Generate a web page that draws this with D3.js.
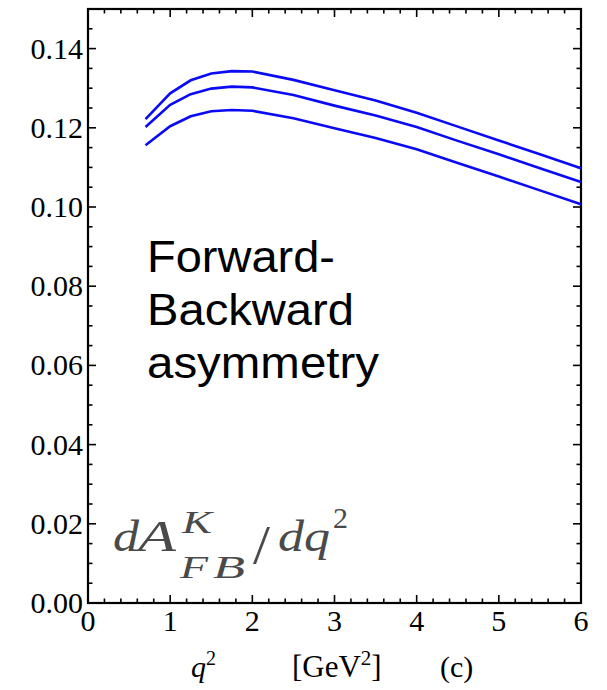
<!DOCTYPE html>
<html>
<head>
<meta charset="utf-8">
<script src="https://cdn.jsdelivr.net/npm/d3@7"></script>
<style>
  body { margin: 0; background: #fff; }
  svg text { font-family: "Liberation Serif", "Times New Roman", serif; }
  svg text.sans { font-family: "Liberation Sans", Arial, sans-serif; }
</style>
</head>
<body>
<div id="chart"></div>
<script>
// q^2 sample points [GeV^2]
const q2 = [0.7, 1.0, 1.25, 1.5, 1.75, 2.0, 2.5, 3.0, 3.5, 4.0, 4.5, 5.0, 5.5, 6.0];
// dA_FB/dq^2, upper / central / lower curves
const upper   = [0.1222, 0.1287, 0.1320, 0.1337, 0.1343, 0.1342, 0.1321, 0.1295, 0.1269, 0.1238, 0.1203, 0.1168, 0.1133, 0.1098];
const central = [0.1202, 0.1258, 0.1285, 0.1299, 0.1304, 0.1302, 0.1283, 0.1256, 0.1231, 0.1202, 0.1167, 0.1133, 0.1098, 0.1063];
const lower   = [0.1156, 0.1204, 0.1229, 0.1242, 0.1245, 0.1243, 0.1224, 0.1199, 0.1174, 0.1146, 0.1111, 0.1077, 0.1042, 0.1007];

const xTicks = [0, 1, 2, 3, 4, 5, 6];
const yTicks = [0.00, 0.02, 0.04, 0.06, 0.08, 0.10, 0.12, 0.14];

const width = 607, height = 690;
const m = { left: 88, right: 581, top: 9, bottom: 603 };

const svg = d3.select("#chart").append("svg")
  .attr("width", width)
  .attr("height", height);

const x = d3.scaleLinear().domain([0, 6]).range([m.left, m.right]);
const y = d3.scaleLinear().domain([0, 0.15]).range([m.bottom, m.top]);

const xMinor = d3.range(0, 6.0001, 0.2).filter(v => Math.abs(v - Math.round(v)) > 1e-6);
const yMinor = d3.range(0, 0.15001, 0.005).filter(v => Math.abs(v / 0.02 - Math.round(v / 0.02)) > 1e-6);

// frame
svg.append("rect")
  .attr("x", m.left).attr("y", m.top)
  .attr("width", m.right - m.left).attr("height", m.bottom - m.top)
  .attr("fill", "none").attr("stroke", "#000").attr("stroke-width", 2.2);

const ticks = svg.append("g").attr("stroke", "#000").attr("stroke-width", 1.6);

function xTickMarks(vals, len) {
  vals.forEach(v => {
    ticks.append("line").attr("x1", x(v)).attr("x2", x(v)).attr("y1", m.bottom).attr("y2", m.bottom - len);
    ticks.append("line").attr("x1", x(v)).attr("x2", x(v)).attr("y1", m.top).attr("y2", m.top + len);
  });
}
function yTickMarks(vals, len) {
  vals.forEach(v => {
    ticks.append("line").attr("y1", y(v)).attr("y2", y(v)).attr("x1", m.left).attr("x2", m.left + len);
    ticks.append("line").attr("y1", y(v)).attr("y2", y(v)).attr("x1", m.right).attr("x2", m.right - len);
  });
}
xTickMarks(xTicks, 8);
xTickMarks(xMinor, 4.5);
yTickMarks(yTicks, 8);
yTickMarks(yMinor, 4.5);

// tick labels
svg.append("g").selectAll("text").data(xTicks).join("text")
  .attr("x", d => x(d)).attr("y", 631)
  .attr("text-anchor", "middle")
  .attr("font-size", 30)
  .text(d => d);

svg.append("g").selectAll("text").data(yTicks).join("text")
  .attr("x", m.left - 5).attr("y", d => y(d) + 10)
  .attr("text-anchor", "end")
  .attr("font-size", 30)
  .text(d => d3.format(".2f")(d));

// curves
const line = d3.line().x((d, i) => x(q2[i])).y(d => y(d));
[upper, central, lower].forEach(s => {
  svg.append("path")
    .datum(s)
    .attr("d", line)
    .attr("fill", "none")
    .attr("stroke", "#0a0af5")
    .attr("stroke-width", 2.6);
});

// annotation
[["Forward-", 188], ["Backward", 207], ["asymmetry", 232]].forEach(([t, len], i) => {
  svg.append("text")
    .attr("class", "sans")
    .attr("x", 147).attr("y", 272 + i * 53)
    .attr("font-size", 45)
    .attr("textLength", len)
    .attr("lengthAdjust", "spacingAndGlyphs")
    .text(t);
});

// dA^K_FB/dq^2 label
const g = svg.append("g").attr("fill", "#4a4a4a");
function piece(t, px, py, size, len, italic) {
  const el = g.append("text")
    .attr("x", px).attr("y", py)
    .attr("font-size", size)
    .attr("font-style", italic ? "italic" : "normal")
    .text(t);
  if (len) el.attr("textLength", len).attr("lengthAdjust", "spacingAndGlyphs");
}
piece("d", 113, 551, 44, 26, true);
piece("A", 138, 551, 44, 38, true);
piece("K", 182, 533, 32, 30, true);
piece("F", 180, 578, 32, 28, true);
piece("B", 213, 578, 32, 32, true);
piece("/", 253, 563, 54, 17, false);
piece("d", 278, 551, 44, 26, true);
piece("q", 304, 551, 44, 26, true);
piece("2", 333, 528, 30, null, false);

// axis label
const xl = svg.append("text").attr("y", 677).attr("font-size", 30);
xl.append("tspan").attr("x", 191).attr("font-style", "italic").text("q");
xl.append("tspan").attr("dy", -12).attr("font-size", 20).text("2");
const gv = svg.append("text").attr("y", 677).attr("font-size", 31);
gv.append("tspan").attr("x", 292).text("[GeV");
gv.append("tspan").attr("dy", -12).attr("font-size", 21).text("2");
gv.append("tspan").attr("dy", 12).text("]");
svg.append("text").attr("x", 440).attr("y", 677).attr("font-size", 30).text("(c)");
</script>
</body>
</html>
